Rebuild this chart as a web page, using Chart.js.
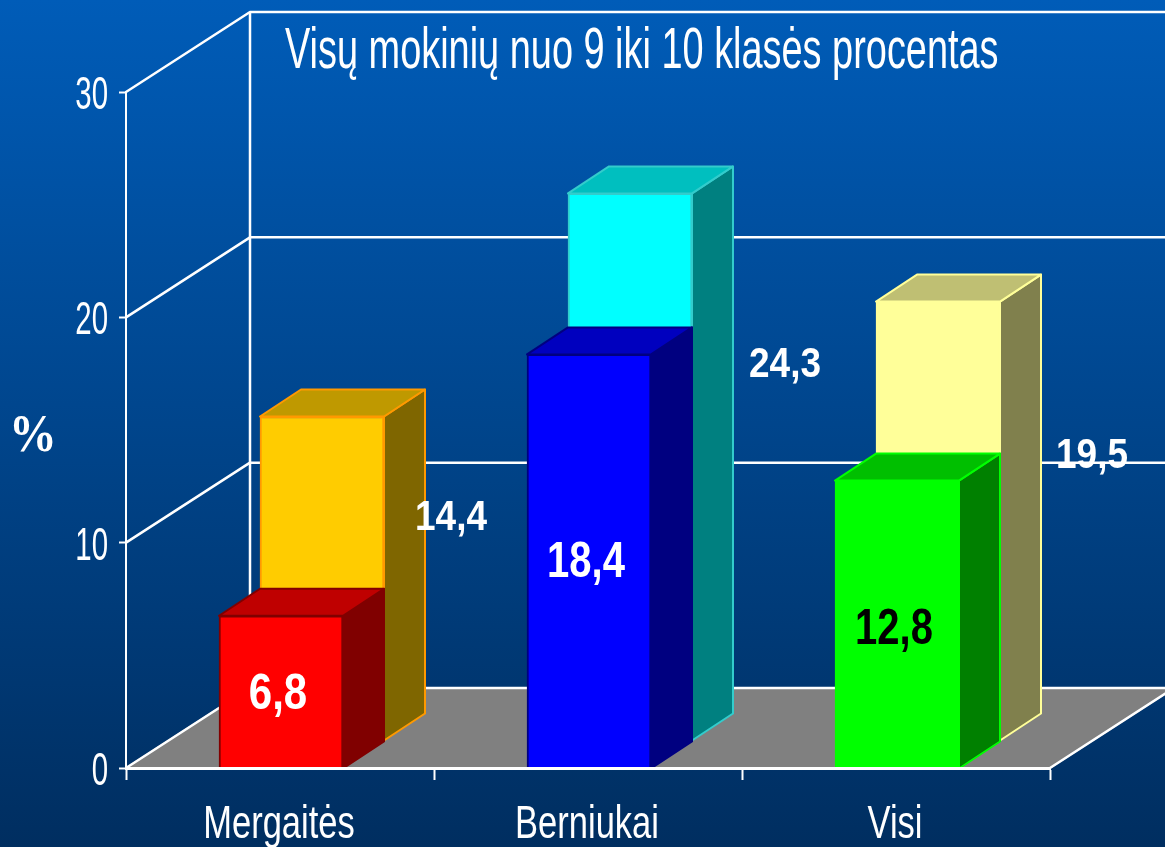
<!DOCTYPE html>
<html lang="lt">
<head>
<meta charset="utf-8">
<title>Visų mokinių nuo 9 iki 10 klasės procentas</title>
<style>
  html, body { margin: 0; padding: 0; width: 1165px; height: 847px; overflow: hidden; }
  body { background: linear-gradient(to bottom, #005cb8 0%, #002e60 100%); }
  canvas { display: block; }
</style>
<script src="https://cdn.jsdelivr.net/npm/chart.js@4"></script>
</head>
<body>
<canvas id="myChart" width="1165" height="847"></canvas>
<script>
const categories = ['Mergaitės', 'Berniukai', 'Visi'];
const values9 = [6.8, 18.4, 12.8];
const values10 = [14.4, 24.3, 19.5];
const yTicks = [0, 10, 20, 30];
const titleText = 'Visų mokinių nuo 9 iki 10 klasės procentas';
const yAxisName = '%';

// colours: front face, top face, side face, edge
const front9 = ['#ff0000', '#0000ff', '#00ff00'];
const top9 = ['#bf0000', '#0000bf', '#00bf00'];
const side9 = ['#800000', '#000080', '#008000'];
const edge9 = ['#800000', '#000080', '#00ff00'];
const front10 = ['#ffcc00', '#00ffff', '#ffff99'];
const top10 = ['#bf9900', '#00bfbf', '#bfbf73'];
const side10 = ['#7f6600', '#008080', '#80804d'];
const edge10 = ['#ff9900', '#33cccc', '#ffff99'];
const labelColor9 = ['#ffffff', '#ffffff', '#000000'];

// where the value labels stand
const labelBaseline9 = [709, 577, 644];
const labelBaseline10 = [530, 377, 468];
const labelShift10 = [171, 197, 196];

const WHITE = '#ffffff';
const wallDepth = { x: 124, y: -80 };
const barDepth = { x: 41, y: -27 };

// the picture is squeezed sideways, so the text is too
function squeezedText(ctx, text, x, y, size, squeeze, weight, align, family, color) {
    ctx.save();
    ctx.font = weight + ' ' + size + 'px ' + (family || '"Liberation Sans", Arial, sans-serif');
    ctx.fillStyle = color || WHITE;
    ctx.textAlign = align;
    ctx.textBaseline = 'alphabetic';
    ctx.translate(x, y);
    ctx.scale(squeeze, 1);
    ctx.fillText(text, 0, 0);
    ctx.restore();
}

function polygon(ctx, points, fill, stroke) {
    ctx.beginPath();
    ctx.moveTo(points[0][0], points[0][1]);
    for (let i = 1; i < points.length; i++) {
        ctx.lineTo(points[i][0], points[i][1]);
    }
    ctx.closePath();
    ctx.fillStyle = fill;
    ctx.fill();
    ctx.lineWidth = 2;
    ctx.strokeStyle = stroke;
    ctx.lineJoin = 'round';
    ctx.stroke();
}

const box3d = {
    id: 'box3d',
    // floor and walls, under the axes
    beforeDraw(chart) {
        const ctx = chart.ctx;
        const area = chart.chartArea;
        const yScale = chart.scales.y;
        const y0 = yScale.getPixelForValue(0);

        polygon(ctx, [
            [area.left, y0],
            [area.left + wallDepth.x, y0 + wallDepth.y],
            [area.right + wallDepth.x, y0 + wallDepth.y],
            [area.right, y0]
        ], '#808080', '#808080');

        ctx.save();
        ctx.strokeStyle = WHITE;
        ctx.lineWidth = 2.5;
        yScale.ticks.forEach(function(tick) {
            const y = yScale.getPixelForValue(tick.value);
            ctx.beginPath();
            ctx.moveTo(area.left, y);
            ctx.lineTo(area.left + wallDepth.x, y + wallDepth.y);
            ctx.lineTo(chart.width + 20, y + wallDepth.y);
            ctx.stroke();
        });
        // back corner and the right floor edge
        ctx.beginPath();
        ctx.moveTo(area.left + wallDepth.x, area.top + wallDepth.y);
        ctx.lineTo(area.left + wallDepth.x, y0 + wallDepth.y);
        ctx.moveTo(area.right, y0);
        ctx.lineTo(area.right + wallDepth.x, y0 + wallDepth.y);
        ctx.stroke();
        ctx.restore();
    },
    beforeDatasetDraw(chart, args) {
        const ctx = chart.ctx;
        ctx.save();
        if (args.index === 1) {
            ctx.translate(barDepth.x + 1, barDepth.y);
        } else {
            ctx.translate(1, 1);
        }
    },
    afterDatasetDraw(chart, args) {
        const ctx = chart.ctx;
        const isBack = args.index === 1;
        args.meta.data.forEach(function(bar, i) {
            const left = bar.x - bar.width / 2;
            const right = bar.x + bar.width / 2;
            const edge = isBack ? edge10[i] : edge9[i];
            polygon(ctx, [
                [right, bar.y],
                [right + barDepth.x, bar.y + barDepth.y],
                [right + barDepth.x, bar.base + barDepth.y],
                [right, bar.base]
            ], isBack ? side10[i] : side9[i], edge);
            polygon(ctx, [
                [left, bar.y],
                [left + barDepth.x, bar.y + barDepth.y],
                [right + barDepth.x, bar.y + barDepth.y],
                [right, bar.y]
            ], isBack ? top10[i] : top9[i], edge);
        });
        ctx.restore();

        // the labels of the back bars stand beside them
        if (isBack) {
            args.meta.data.forEach(function(bar, i) {
                squeezedText(ctx, values10[i].toFixed(1).replace('.', ','), bar.x + labelShift10[i], labelBaseline10[i], 42, 0.88, 'bold', 'center');
            });
        }
    },
    afterDraw(chart) {
        const ctx = chart.ctx;
        const xScale = chart.scales.x;
        const yScale = chart.scales.y;

        chart.getDatasetMeta(0).data.forEach(function(bar, i) {
            const squeeze = i === 0 ? 0.84 : 0.8;
            squeezedText(ctx, values9[i].toFixed(1).replace('.', ','), bar.x - 2, labelBaseline9[i], 50, squeeze, 'bold', 'center', null, labelColor9[i]);
        });

        yScale.ticks.forEach(function(tick) {
            squeezedText(ctx, String(tick.value), 108, yScale.getPixelForValue(tick.value) + 17, 46, 0.64, 'normal', 'right');
        });
        categories.forEach(function(name, i) {
            squeezedText(ctx, name, xScale.getPixelForValue(i) - 1, 838, 46, 0.75, 'normal', 'center');
        });

        squeezedText(ctx, titleText, 285, 68, 57, 0.665, 'normal', 'left');
        squeezedText(ctx, yAxisName, 9, 451, 52, 0.92, 'bold', 'left', '"Liberation Serif", "Times New Roman", serif');
    }
};

const ctx = document.getElementById('myChart').getContext('2d');

const myChart = new Chart(ctx, {
    type: 'bar',
    data: {
        labels: categories,
        datasets: [{
            label: '9 klasė',
            data: values9,
            backgroundColor: front9,
            borderColor: edge9,
            borderWidth: 2,
            clip: false
        }, {
            label: '10 klasė',
            data: values10,
            backgroundColor: front10,
            borderColor: edge10,
            borderWidth: 2,
            clip: false
        }]
    },
    options: {
        responsive: false,
        animation: false,
        layout: {
            padding: { top: 92, right: 115, left: 0, bottom: 0 }
        },
        plugins: {
            legend: { display: false },
            title: { display: false },
            tooltip: { enabled: false }
        },
        datasets: {
            bar: { grouped: false, barThickness: 124 }
        },
        scales: {
            x: {
                afterFit: function(scale) { scale.height = 79; },
                ticks: { display: false },
                border: { color: WHITE, width: 3, z: 1 },
                grid: { drawOnChartArea: false, color: WHITE, tickColor: WHITE, tickLength: 12, tickWidth: 2 }
            },
            y: {
                min: 0,
                max: 30,
                afterFit: function(scale) { scale.width = 126; },
                afterBuildTicks: function(scale) {
                    scale.ticks = yTicks.map(function(v) { return { value: v }; });
                },
                ticks: { display: false },
                border: { color: WHITE, width: 2 },
                grid: { drawOnChartArea: false, color: WHITE, tickColor: WHITE, tickLength: 7, tickWidth: 2 }
            }
        }
    },
    plugins: [box3d]
});
</script>
</body>
</html>
